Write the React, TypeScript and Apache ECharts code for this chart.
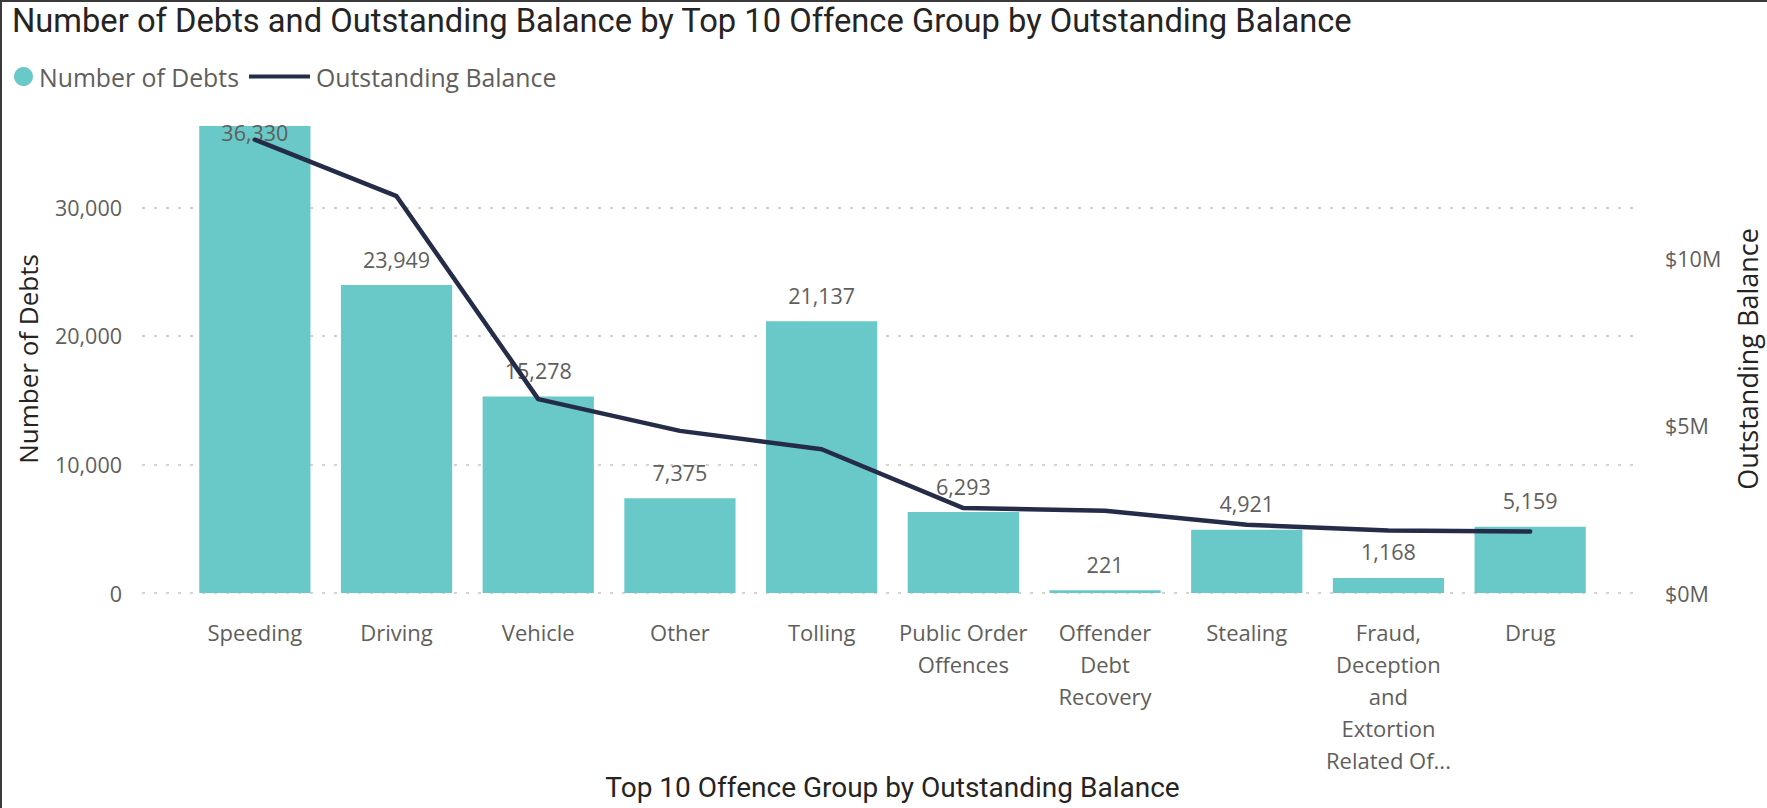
import React, { useEffect, useRef } from "react";
import * as echarts from "echarts";

const categories = [
  "Speeding",
  "Driving",
  "Vehicle",
  "Other",
  "Tolling",
  "Public Order Offences",
  "Offender Debt Recovery",
  "Stealing",
  "Fraud, Deception and Extortion Related Offences",
  "Drug",
];

const categoryTickLabels = [
  "Speeding",
  "Driving",
  "Vehicle",
  "Other",
  "Tolling",
  "Public Order\nOffences",
  "Offender\nDebt\nRecovery",
  "Stealing",
  "Fraud,\nDeception\nand\nExtortion\nRelated Of...",
  "Drug",
];

const numberOfDebts = [36330, 23949, 15278, 7375, 21137, 6293, 221, 4921, 1168, 5159];

const outstandingBalance = [
  13560000, 11870000, 5800000, 4850000, 4300000, 2540000, 2460000, 2040000, 1870000, 1840000,
];

const leftAxisMax = 36400;
const rightAxisMax = 14000000;

const TEXT_GRAY = "#605E5C";
const TEXT_DARK = "#252423";
const BAR_COLOR = "#69C9C8";
const LINE_COLOR = "#252C48";
const SANS = "'Open Sans', 'Noto Sans', sans-serif";
const DIN = "Roboto, 'Noto Sans', sans-serif";

const fmtInt = (v: number) => Math.round(v).toLocaleString("en-US");

export default function App() {
  const ref = useRef<HTMLDivElement>(null);

  useEffect(() => {
    if (!ref.current) return;
    const chart = echarts.init(ref.current, undefined, { renderer: "svg" });

    const gridTop = 125;
    const gridBottom = 215;

    const barData = numberOfDebts.map((v) => ({
      value: v,
      label:
        v > leftAxisMax * 0.93
          ? { position: "insideTop", distance: -4 }
          : { position: "top", distance: 15 },
    }));

    chart.setOption({
      animation: false,
      backgroundColor: "#ffffff",
      title: {
        text: "Number of Debts and Outstanding Balance by Top 10 Offence Group by Outstanding Balance",
        left: 12,
        top: 4,
        padding: 0,
        textStyle: {
          fontFamily: DIN,
          fontSize: 32.7,
          fontWeight: "normal",
          color: TEXT_DARK,
        },
      },
      legend: [
        {
          left: 14,
          top: 64,
          padding: 0,
          icon: "circle",
          itemWidth: 19,
          itemHeight: 19,
          data: ["Number of Debts"],
          textStyle: { fontFamily: SANS, fontSize: 24.8, color: TEXT_GRAY, padding: [0, 0, 0, 1] },
        },
        {
          left: 249,
          top: 64,
          padding: 0,
          icon: "rect",
          itemWidth: 61,
          itemHeight: 4,
          data: ["Outstanding Balance"],
          textStyle: { fontFamily: SANS, fontSize: 24.8, color: TEXT_GRAY, padding: [0, 0, 0, 1] },
        },
      ],
      grid: [
        {
          left: 184,
          right: 166,
          top: gridTop,
          bottom: gridBottom,
          containLabel: false,
          outerBoundsMode: "none",
        },
        {
          left: 142,
          right: 127,
          top: gridTop,
          bottom: gridBottom,
          containLabel: false,
          outerBoundsMode: "none",
        },
      ],
      xAxis: [
        {
          type: "category",
          gridIndex: 0,
          data: categories,
          axisLine: { show: false },
          axisTick: { show: false },
          axisLabel: {
            interval: 0,
            margin: 23,
            fontFamily: SANS,
            fontSize: 22,
            lineHeight: 32,
            color: TEXT_GRAY,
            formatter: (_v: string, i: number) => categoryTickLabels[i],
          },
          name: "Top 10 Offence Group by Outstanding Balance",
          nameLocation: "middle",
          nameGap: 180,
          nameMoveOverlap: false,
          nameTextStyle: {
            fontFamily: DIN,
            fontSize: 28,
            fontWeight: "normal",
            color: TEXT_DARK,
          },
        },
        {
          type: "value",
          gridIndex: 1,
          min: 0,
          max: 1,
          show: false,
        },
      ],
      yAxis: [
        {
          type: "value",
          gridIndex: 0,
          position: "left",
          min: 0,
          max: leftAxisMax,
          interval: 10000,
          axisLine: { show: false },
          axisTick: { show: false },
          splitLine: { show: false },
          axisLabel: {
            margin: 62,
            fontFamily: SANS,
            fontSize: 21.5,
            color: TEXT_GRAY,
            showMaxLabel: false,
            formatter: (v: number) => fmtInt(v),
          },
          name: "Number of Debts",
          nameLocation: "middle",
          nameRotate: 90,
          nameGap: 143,
          nameTextStyle: { fontFamily: SANS, fontSize: 26, color: TEXT_DARK },
        },
        {
          type: "value",
          gridIndex: 0,
          position: "right",
          min: 0,
          max: rightAxisMax,
          interval: 5000000,
          axisLine: { show: false },
          axisTick: { show: false },
          splitLine: { show: false },
          axisLabel: {
            margin: 64,
            fontFamily: SANS,
            fontSize: 21.5,
            color: TEXT_GRAY,
            showMaxLabel: false,
            formatter: (v: number) => "$" + v / 1000000 + "M",
          },
          name: "Outstanding Balance",
          nameLocation: "middle",
          nameRotate: 90,
          nameGap: 133,
          nameTextStyle: { fontFamily: SANS, fontSize: 27, color: TEXT_DARK },
        },
        {
          type: "value",
          gridIndex: 1,
          min: 0,
          max: leftAxisMax,
          interval: 10000,
          axisLine: { show: false },
          axisTick: { show: false },
          axisLabel: { show: false },
          splitLine: {
            show: true,
            showMaxLine: false,
            lineStyle: { color: "#C8C6C4", width: 1.5, type: [3, 9] },
          },
        },
      ],
      series: [
        {
          name: "Number of Debts",
          type: "bar",
          xAxisIndex: 0,
          yAxisIndex: 0,
          data: barData,
          barCategoryGap: "21.5%",
          itemStyle: { color: BAR_COLOR },
          label: {
            show: true,
            fontFamily: SANS,
            fontSize: 21.5,
            color: TEXT_GRAY,
            formatter: (p: any) => fmtInt(p.value),
          },
          z: 2,
        },
        {
          name: "Outstanding Balance",
          type: "line",
          xAxisIndex: 0,
          yAxisIndex: 1,
          data: outstandingBalance,
          showSymbol: false,
          symbol: "none",
          color: LINE_COLOR,
          itemStyle: { color: LINE_COLOR },
          lineStyle: { color: LINE_COLOR, width: 4.5, cap: "round", join: "round" },
          z: 5,
        },
      ],
      graphic: [
        {
          type: "line",
          shape: { x1: 0, y1: 1, x2: 1767, y2: 1 },
          style: { stroke: "#3a3a3a", lineWidth: 2 },
        },
        {
          type: "line",
          shape: { x1: 1, y1: 0, x2: 1, y2: 808 },
          style: { stroke: "#3a3a3a", lineWidth: 2 },
        },
      ],
    });

    return () => chart.dispose();
  }, []);

  return (
    <div
      ref={ref}
      style={{ position: "fixed", left: 0, top: 0, width: 1767, height: 808, background: "#fff" }}
    />
  );
}
